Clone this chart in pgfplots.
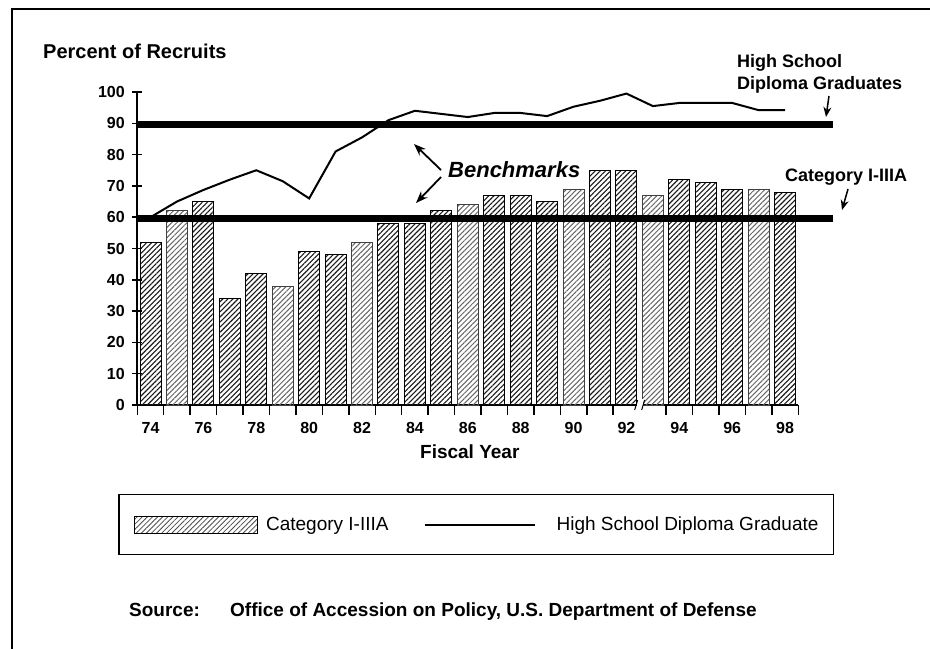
\documentclass[border=0pt]{standalone}
\usepackage{fontspec}
\setmainfont{Liberation Sans}
\usepackage{pgfplots}
\pgfplotsset{compat=1.18}
\usetikzlibrary{patterns.meta,arrows.meta}

\newcommand{\fs}[1]{\fontsize{#1}{#1}\selectfont}

\begin{document}
\begin{tikzpicture}
\useasboundingbox (0,0) rectangle (930pt,649pt);
\begin{axis}[
  at={(137.3pt,244pt)}, anchor=south west,
  scale only axis, width=661pt, height=313pt,
  xmin=73.5, xmax=98.5, ymin=0, ymax=100,
  clip=false,
  axis x line*=bottom, axis y line*=left,
  axis line style={line width=1.8pt},
  tick align=center,
  major tick length=10pt,
  minor tick length=10pt,
  every tick/.style={black, line width=1.5pt},
  /pgf/number format/assume math mode=true,
  ticklabel style={font=\fs{16}\bfseries},
  xtick={74,76,...,98},
  major x tick style={draw=none},
  minor xtick={73.5,74.5,75.5,76.5,77.5,78.5,79.5,80.5,81.5,82.5,83.5,84.5,85.5,86.5,87.5,88.5,89.5,90.5,91.5,93.5,94.5,95.5,96.5,97.5,98.5},
  xticklabel style={yshift=-4pt},
  ytick={0,10,...,100},
  yticklabel style={xshift=-4pt},
  xlabel={Fiscal Year},
  xlabel style={at={(axis description cs:0.503,-0.150)}, anchor=center, font=\fs{19}\bfseries},
  ybar, bar width=21pt, bar shift=0pt,
  legend columns=2,
  legend style={at={(axis description cs:0.513,-0.382)}, anchor=center,
    draw=black, line width=1.6pt, inner xsep=15pt, inner ysep=21pt,
    font=\fs{19}, nodes={inner sep=0pt},
    /tikz/column 1/.style={column sep=8pt},
    /tikz/column 2/.style={column sep=35pt},
    /tikz/column 3/.style={column sep=21pt}},
]
% Category I-IIIA (darker scanned bars)
\addplot[draw=black, line width=1pt,
  pattern={Lines[angle=45,distance=3.6pt,line width=1.1pt]}, pattern color=black!90,
  legend image code/.code={\draw[draw=black, line width=0.8pt,
    pattern={Lines[angle=45,distance=3.6pt,line width=0.8pt]}, pattern color=black!70]
    (0pt,-8.5pt) rectangle (123pt,8.5pt);}]
  coordinates {(74,52) (76,65) (77,34) (78,42) (80,49) (81,48) (83,58) (84,58) (85,62)
    (87,67) (88,67) (89,65) (91,75) (92,75) (94,72) (95,71) (96,69) (98,68)};
\addlegendentry{Category I-IIIA}
% Category I-IIIA (lighter scanned bars)
\addplot[forget plot, draw=black!75, line width=1pt,
  pattern={Lines[angle=45,distance=3.6pt,line width=1pt]}, pattern color=black!60]
  coordinates {(75,62) (79,38) (82,52) (86,64) (90,69) (93,67) (97,69)};
% benchmarks
\addplot[forget plot, sharp plot, line width=7pt, black]
  coordinates {(73.5,89.5) (99.8,89.5)};
\addplot[forget plot, sharp plot, line width=7pt, black]
  coordinates {(73.5,59.6) (99.8,59.6)};
% High School Diploma Graduates
\addplot[sharp plot, line width=2pt, black,
  legend image code/.code={\draw[line width=2pt] (0pt,0pt) -- (110pt,0pt);}]
  coordinates {(74,60) (75,65) (76,68.7) (77,72) (78,75) (79,71.5) (80,66) (81,81)
    (82,85.5) (83,91) (84,94) (85,93) (86,92) (87,93.3) (88,93.3) (89,92.3) (90,95.3)
    (91,97.2) (92,99.5) (93,95.5) (94,96.5) (95,96.5) (96,96.5) (97,94.2) (98,94.2)};
\addlegendentry{High School Diploma Graduate}
\coordinate (brk) at (axis cs:92.5,0);
\end{axis}
% axis break
\fill[white] ([xshift=-3pt,yshift=-6pt]brk) rectangle ([xshift=3pt,yshift=6pt]brk);
\draw[line width=1pt] ([xshift=-5pt,yshift=-5pt]brk) -- ([xshift=-2pt,yshift=5pt]brk);
\draw[line width=1pt] ([xshift=2pt,yshift=-5pt]brk) -- ([xshift=5pt,yshift=5pt]brk);
\begin{scope}[x=1pt, y=-1pt, yshift=649pt]
  \draw[line width=2pt] (12,649) -- (12,9) -- (930,9);
  \node[anchor=base west, inner sep=0pt, font=\fs{20}\bfseries] at (43,59) {Percent of Recruits};
  \node[anchor=base west, inner sep=0pt, font=\fs{18}\bfseries] at (737,68) {High School};
  \node[anchor=base west, inner sep=0pt, font=\fs{18}\bfseries] at (737,90) {Diploma Graduates};
  \draw[line width=1.5pt, -{Stealth[length=10pt,width=8pt]}] (829,96) -- (826,117);
  \node[anchor=base west, inner sep=0pt, font=\fs{18}\bfseries] at (785,182) {Category I-IIIA};
  \draw[line width=1.5pt, -{Stealth[length=10pt,width=8pt]}] (848,189) -- (842,210);
  \node[anchor=base west, inner sep=0pt, font=\fs{22}\bfseries\itshape] at (448,178) {Benchmarks};
  \draw[line width=1.8pt, -{Stealth[length=12pt,width=9pt]}] (441,170) -- (414,144);
  \draw[line width=1.8pt, -{Stealth[length=12pt,width=9pt]}] (441,177) -- (416,203);
  \node[anchor=base west, inner sep=0pt, font=\fs{19}\bfseries] at (129,616) {Source:};
  \node[anchor=base west, inner sep=0pt, font=\fs{19}\bfseries] at (230,616)
    {Office of Accession on Policy, U.S. Department of Defense};
\end{scope}
\end{tikzpicture}
\end{document}
